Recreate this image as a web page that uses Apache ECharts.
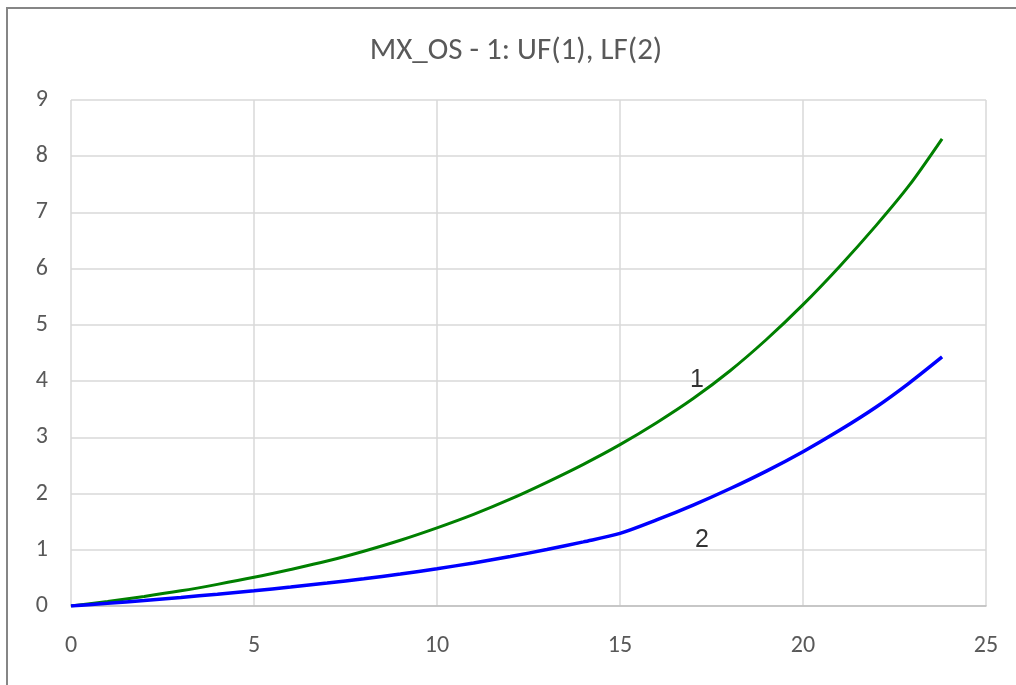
<!DOCTYPE html>
<html>
<head>
<meta charset="utf-8">
<script src="https://cdn.jsdelivr.net/npm/echarts@6/dist/echarts.min.js"></script>
<style>
html,body{margin:0;padding:0;background:#fff;}
#chart{width:1016px;height:685px;}
</style>
</head>
<body>
<div id="chart"></div>
<script>
// Data
const titleText = "MX_OS - 1: UF(1), LF(2)";
const xValues = [0,1,2,3,4,5,6,7,8,9,10,11,12,13,14,15,16,17,18,19,20,21,22,22.9,23.8];
const uf1 = [0,0.08,0.17,0.27,0.385,0.51,0.65,0.80,0.975,1.17,1.39,1.63,1.90,2.20,2.52,2.87,3.26,3.69,4.18,4.74,5.36,6.04,6.77,7.48,8.31];
const lf2 = [0,0.048,0.099,0.153,0.210,0.271,0.337,0.408,0.485,0.570,0.663,0.766,0.879,1.004,1.141,1.291,1.53,1.795,2.085,2.40,2.745,3.125,3.54,3.965,4.43];
const curveLabels = ["1","2"];
const labelPos = [[17.1,4.02],[17.24,1.17]];
const xTicks = {min:0,max:25,interval:5};
const yTicks = {min:0,max:9,interval:1};

const chart = echarts.init(document.getElementById('chart'), null, {renderer:'canvas'});
const pair = (xs, ys) => xs.map((x,i)=>[x, ys[i]]);
const font = "Calibri, Carlito, 'Liberation Sans Narrow', 'Open Sans', sans-serif";

chart.setOption({
  animation:false,
  backgroundColor:'#ffffff',
  title:{
    text:titleText,
    left:511, top:31, textAlign:'center',
    textStyle:{color:'#595959', fontSize:31, fontWeight:'normal', fontFamily:font}
  },
  graphic:[{
    type:'rect', silent:true, z:-1,
    shape:{x:7, y:8, width:1100, height:1000},
    style:{fill:'none', stroke:'#868686', lineWidth:2}
  }],
  grid:{left:71, right:30, top:100, bottom:79, containLabel:false},
  xAxis:{
    type:'value', min:xTicks.min, max:xTicks.max, interval:xTicks.interval,
    axisLine:{show:true, lineStyle:{color:'#bfbfbf', width:1.5}},
    axisTick:{show:false},
    axisLabel:{color:'#595959', fontSize:24, fontFamily:font, margin:28},
    splitLine:{show:true, lineStyle:{color:'#d9d9d9', width:1.5}}
  },
  yAxis:{
    type:'value', min:yTicks.min, max:yTicks.max, interval:yTicks.interval,
    axisLine:{show:false},
    axisTick:{show:false},
    axisLabel:{color:'#595959', fontSize:24, fontFamily:font, margin:23},
    splitLine:{show:true, lineStyle:{color:'#d9d9d9', width:1.5}}
  },
  series:[
    {type:'line', name:'UF(1)', data:pair(xValues, uf1), smooth:0.3, showSymbol:false,
     lineStyle:{color:'#008000', width:3}, z:3},
    {type:'line', name:'LF(2)', data:pair(xValues, lf2), smooth:0.3, showSymbol:false,
     lineStyle:{color:'#0000ff', width:3.5}, z:3},
    {type:'scatter', symbolSize:0, silent:true, z:4,
     data:labelPos.map((p,i)=>({value:p, name:curveLabels[i]})),
     label:{show:true, position:'inside', formatter:'{b}', color:'#000000', fontSize:25,
            fontFamily:"Arial, 'Liberation Sans', sans-serif"}}
  ]
});
</script>
</body>
</html>
